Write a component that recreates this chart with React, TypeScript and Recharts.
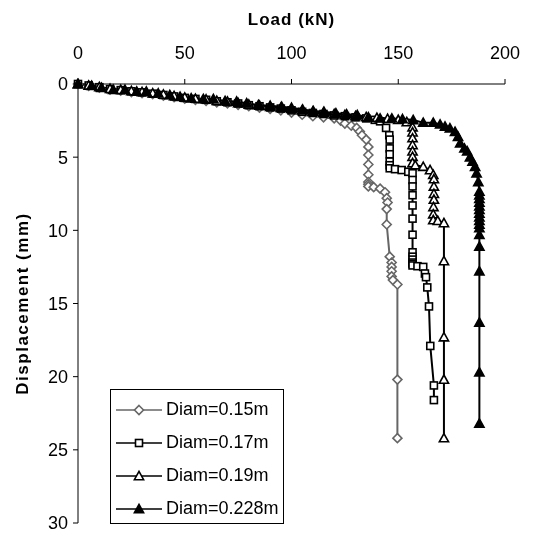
import React from 'react';
import { LineChart, Line, XAxis, YAxis, Legend } from 'recharts';

// ---- Data (Load kN, Displacement mm) ----
const seriesNames = ['Diam=0.15m', 'Diam=0.17m', 'Diam=0.19m', 'Diam=0.228m'];
const xTicks = [0, 50, 100, 150, 200];
const yTicks = [0, 5, 10, 15, 20, 25, 30];

const load015 = [0, 5, 10, 15, 20, 25, 30, 35, 40, 45, 50, 55, 60, 65, 70, 75, 80, 85, 90, 95, 100, 105, 110, 115, 120, 123, 125, 128, 130.5, 132, 133, 135, 136, 136, 136, 136, 136, 136, 136, 138.5, 141.5, 143.8, 144.6, 145, 144.6, 144.6, 146, 146.9, 146.9, 146.9, 146.9, 147.5, 149.6, 149.6, 149.6];
const disp015 = [0, 0.12, 0.25, 0.38, 0.45, 0.55, 0.62, 0.7, 0.8, 0.9, 1.0, 1.08, 1.15, 1.25, 1.32, 1.42, 1.52, 1.62, 1.7, 1.8, 1.95, 2.1, 2.2, 2.28, 2.35, 2.5, 2.7, 2.85, 3.0, 3.25, 3.5, 3.8, 4.3, 4.85, 5.5, 6.2, 6.7, 6.85, 7.0, 7.05, 7.15, 7.4, 7.8, 8.1, 8.55, 9.6, 11.8, 12.2, 12.5, 12.8, 13.15, 13.4, 13.7, 20.2, 24.2];

const load017 = [0, 5, 10, 15, 20, 25, 30, 35, 40, 45, 50, 55, 60, 65, 70, 75, 80, 85, 90, 95, 100, 105, 110, 115, 120, 125, 130, 135, 139, 141.5, 144.3, 145.8, 146, 146, 146, 146, 146, 146, 148.5, 151.6, 154.7, 156.7, 156.7, 156.7, 156.7, 156.7, 156.7, 156.7, 156.7, 156.7, 156.7, 156.7, 156.7, 156.7, 159, 161.7, 162.5, 163, 163.6, 164.4, 165, 166.7, 166.7];
const disp017 = [0, 0.1, 0.22, 0.35, 0.42, 0.5, 0.57, 0.66, 0.75, 0.85, 0.95, 1.02, 1.08, 1.18, 1.25, 1.33, 1.45, 1.52, 1.6, 1.68, 1.8, 1.9, 1.98, 2.05, 2.15, 2.2, 2.28, 2.35, 2.45, 2.55, 3.0, 3.5, 3.8, 4.4, 4.8, 5.3, 5.55, 5.76, 5.82, 5.88, 6.0, 6.1, 6.56, 7.0, 7.6, 8.3, 9.2, 10.3, 11.5, 11.8, 12.0, 12.2, 12.3, 12.4, 12.45, 12.5, 12.95, 13.2, 13.9, 15.2, 17.9, 20.6, 21.6];

const load019 = [0, 5, 10, 15, 20, 25, 30, 35, 40, 45, 50, 55, 60, 65, 70, 75, 80, 85, 90, 95, 100, 105, 110, 115, 120, 125, 130, 135, 140, 145, 150, 154, 156.7, 156.7, 156.7, 156.7, 156.7, 156.7, 156.7, 158, 161.7, 164.9, 166.4, 166.7, 166.7, 166.7, 166.7, 166.5, 166.4, 166.4, 168.5, 171.4, 171.4, 171.4, 171.4, 171.4];
const disp019 = [0, 0.1, 0.2, 0.33, 0.4, 0.48, 0.55, 0.63, 0.72, 0.82, 0.92, 1.0, 1.05, 1.14, 1.2, 1.3, 1.4, 1.47, 1.55, 1.62, 1.7, 1.8, 1.88, 1.95, 2.05, 2.12, 2.18, 2.25, 2.3, 2.38, 2.45, 2.6, 2.95, 3.3, 3.7, 4.17, 4.6, 4.97, 5.4, 5.55, 5.65, 5.88, 6.2, 6.5, 7.0, 7.5, 7.9, 8.4, 8.9, 9.3, 9.35, 9.5, 12.1, 17.3, 20.2, 24.2];

const load228 = [0, 6.4, 11, 16.5, 22, 27.5, 32, 37.6, 43, 47.8, 53, 58.7, 63.4, 68.9, 74.3, 79, 84.5, 90, 95.4, 100, 105.2, 110.2, 115.2, 120.8, 125.8, 130.8, 136, 141.5, 147, 152, 157, 161.7, 166.4, 169.6, 171.9, 174.2, 176.6, 178, 179, 181, 182.3, 183.6, 184.8, 186, 186.7, 187.5, 188, 188, 188, 188, 188, 188, 188, 188, 188, 188, 188, 188, 188, 188, 188, 188, 188];
const disp228 = [0, 0.12, 0.25, 0.4, 0.4, 0.52, 0.52, 0.64, 0.75, 0.87, 0.98, 1.02, 1.02, 1.16, 1.2, 1.32, 1.44, 1.48, 1.55, 1.62, 1.75, 1.84, 1.89, 2.0, 2.07, 2.12, 2.27, 2.35, 2.35, 2.4, 2.46, 2.64, 2.64, 2.76, 2.9, 3.03, 3.26, 3.6, 4.05, 4.4, 4.6, 5.0, 5.3, 5.65, 6.1, 6.7, 7.35, 7.6, 7.85, 8.1, 8.35, 8.6, 8.85, 9.1, 9.35, 9.6, 9.85, 10.3, 11.1, 12.8, 16.3, 19.7, 23.2];

const toPoints = (xs: number[], ys: number[]) =>
  xs.slice(0, Math.min(xs.length, ys.length)).map((x, i) => ({ x, y: ys[i] }));

const data015 = toPoints(load015, disp015);
const data017 = toPoints(load017, disp017);
const data019 = toPoints(load019, disp019);
const data228 = toPoints(load228, disp228);

const GREY = '#666666';
const BLACK = '#000000';
const FONT = 'Arial, "Liberation Sans", sans-serif';

type MarkerKind = 'diamond' | 'square' | 'triangleOpen' | 'triangleFilled';

const Marker = ({ kind, cx, cy, color }: { kind: MarkerKind; cx: number; cy: number; color: string }) => {
  if (kind === 'diamond') {
    const r = 4.5;
    return <path d={`M${cx},${cy - r}L${cx + r},${cy}L${cx},${cy + r}L${cx - r},${cy}Z`} fill="#fff" stroke={color} strokeWidth={1.6} />;
  }
  if (kind === 'square') {
    const r = 3.5;
    return <rect x={cx - r} y={cy - r} width={2 * r} height={2 * r} fill="#fff" stroke={color} strokeWidth={1.6} />;
  }
  const r = 4.6;
  const filled = kind === 'triangleFilled';
  return (
    <path
      d={`M${cx},${cy - r}L${cx + r},${cy + r * 0.8}L${cx - r},${cy + r * 0.8}Z`}
      fill={filled ? color : '#fff'}
      stroke={color}
      strokeWidth={1.6}
    />
  );
};

const makeDot = (kind: MarkerKind, color: string) => (props: any) => {
  const { cx, cy, index } = props;
  if (cx == null || cy == null) return <g key={`d-${kind}-${index}`} />;
  return (
    <g key={`d-${kind}-${index}`}>
      <Marker kind={kind} cx={cx} cy={cy} color={color} />
    </g>
  );
};

const legendItems: { name: string; kind: MarkerKind; color: string }[] = [
  { name: seriesNames[0], kind: 'diamond', color: GREY },
  { name: seriesNames[1], kind: 'square', color: BLACK },
  { name: seriesNames[2], kind: 'triangleOpen', color: BLACK },
  { name: seriesNames[3], kind: 'triangleFilled', color: BLACK },
];

const LegendBox = () => (
  <div
    style={{
      width: 174,
      height: 135,
      border: '1px solid #000',
      background: '#fff',
      boxSizing: 'border-box',
      position: 'relative',
      fontFamily: FONT,
    }}
  >
    {legendItems.map((it, i) => (
      <div key={it.name} style={{ position: 'absolute', left: 0, top: 20 + i * 33 - 12, height: 24, width: 172 }}>
        <svg width={52} height={24} style={{ position: 'absolute', left: 4, top: 0 }}>
          <line x1={1} y1={12} x2={47} y2={12} stroke={it.color} strokeWidth={1.6} />
          <Marker kind={it.kind} cx={24} cy={12} color={it.color} />
        </svg>
        <span style={{ position: 'absolute', left: 55, top: 1, fontSize: 18, lineHeight: '21px', color: '#000', whiteSpace: 'nowrap' }}>
          {it.name}
        </span>
      </div>
    ))}
  </div>
);

export default function App() {
  return (
    <div style={{ position: 'fixed', left: 8, top: 8 }}>
      <LineChart width={535} height={529} margin={{ top: 36, right: 38, bottom: 14, left: 10 }}>
        <XAxis
          dataKey="x"
          type="number"
          orientation="top"
          domain={[0, 200]}
          ticks={xTicks}
          interval={0}
          allowDuplicatedCategory={false}
          height={40}
          tickSize={5}
          tickMargin={20}
          stroke="#000"
          tick={{ fill: '#000', fontSize: 18, fontFamily: FONT }}
          label={{
            content: (p: any) => {
              const vb = p.viewBox || {};
              return (
                <text x={vb.x + vb.width / 2} y={17} textAnchor="middle" fontFamily={FONT} fontWeight="bold" fontSize={17} letterSpacing={1} fill="#000">
                  Load (kN)
                </text>
              );
            },
          }}
        />
        <YAxis
          dataKey="y"
          type="number"
          reversed
          domain={[0, 30]}
          ticks={yTicks}
          interval={0}
          width={60}
          tickSize={5}
          tickMargin={5}
          stroke="#000"
          tick={{ fill: '#000', fontSize: 18, fontFamily: FONT }}
          label={{
            content: (p: any) => {
              const vb = p.viewBox || {};
              const cx = 20;
              const cy = vb.y + vb.height / 2;
              return (
                <text x={cx} y={cy} transform={`rotate(-90 ${cx} ${cy})`} textAnchor="middle" fontFamily={FONT} fontWeight="bold" fontSize={17} letterSpacing={1.5} fill="#000">
                  Displacement (mm)
                </text>
              );
            },
          }}
        />
        <Legend
          layout="vertical"
          align="center"
          verticalAlign="middle"
          content={() => <LegendBox />}
          wrapperStyle={{ position: 'absolute', left: 102, top: 381, width: 174, height: 135 }}
        />
        <Line data={data015} dataKey="y" name={seriesNames[0]} type="linear" stroke={GREY} strokeWidth={2} dot={makeDot('diamond', GREY)} isAnimationActive={false} />
        <Line data={data017} dataKey="y" name={seriesNames[1]} type="linear" stroke={BLACK} strokeWidth={2} dot={makeDot('square', BLACK)} isAnimationActive={false} />
        <Line data={data019} dataKey="y" name={seriesNames[2]} type="linear" stroke={BLACK} strokeWidth={2} dot={makeDot('triangleOpen', BLACK)} isAnimationActive={false} />
        <Line data={data228} dataKey="y" name={seriesNames[3]} type="linear" stroke={BLACK} strokeWidth={2} dot={makeDot('triangleFilled', BLACK)} isAnimationActive={false} />
      </LineChart>
    </div>
  );
}
